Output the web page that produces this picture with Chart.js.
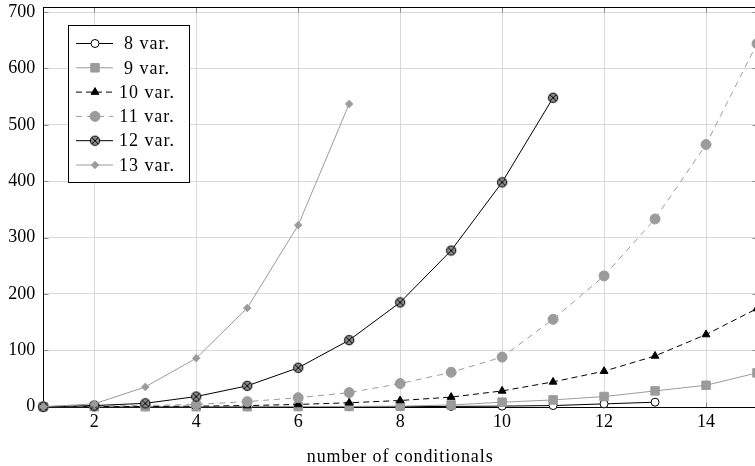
<!DOCTYPE html>
<html>
<head>
<meta charset="utf-8">
<script src="https://cdn.jsdelivr.net/npm/chart.js@4.4.1/dist/chart.umd.min.js"></script>
<style>
html,body{margin:0;padding:0;overflow:hidden;background:#fff;}
#wrap{width:764px;height:466px;}
</style>
</head>
<body>
<div id="wrap"><canvas id="chart" width="764" height="466"></canvas></div>
<script>
// number of conditionals on the x axis
const conditionals = [1,2,3,4,5,6,7,8,9,10,11,12,13,14,15];

const var8  = [0,0,0,0,0,0,0,0,0.5,1,2,5,8];
const var9  = [0,0,0,0,0,0.3,0.5,1,3,8,12,18,28,38,60];
const var10 = [0,0,0.5,1,2,4,7,11,17,28,44,63,90,128,174];
const var11 = [0,1,2,4,9,16,25,41,61,88,155,232,333,465,644];
const var12 = [0,2,6,18,37,69,118,185,277,398,548];
const var13 = [0,5,35,86,175,322,537];

const seriesNames = ['8 var.','9 var.','10 var.','11 var.','12 var.','13 var.'];
const xTicks = [2,4,6,8,10,12,14];
const yTicks = [0,100,200,300,400,500,600,700];
const xTitle = 'number of conditionals';

const gray = '#9b9b9b';
const font = "'Liberation Serif', 'DejaVu Serif', serif";

// circle with a cross for "12 var."
function crossedCircle() {
  const c = document.createElement('canvas');
  c.width = 12; c.height = 12;
  const g = c.getContext('2d');
  g.beginPath();
  g.arc(6, 6, 4.7, 0, Math.PI * 2);
  g.fillStyle = '#8a8a8a';
  g.fill();
  g.lineWidth = 1;
  g.strokeStyle = '#000';
  g.stroke();
  g.beginPath();
  g.moveTo(2.8, 2.8); g.lineTo(9.2, 9.2);
  g.moveTo(9.2, 2.8); g.lineTo(2.8, 9.2);
  g.stroke();
  return c;
}

function pts(values) {
  return values.map((v, i) => ({x: conditionals[i], y: v}));
}

const styles = [
  {line: '#000', dash: [], pStyle: 'circle', r: 4, fill: '#fff', stroke: '#000'},
  {line: gray, dash: [], pStyle: 'rect', r: 6, fill: gray, stroke: gray},
  {line: '#000', dash: [6, 4], pStyle: 'triangle', r: 4.5, fill: '#000', stroke: '#000'},
  {line: gray, dash: [6, 5], pStyle: 'circle', r: 5, fill: gray, stroke: gray},
  {line: '#000', dash: [], pStyle: crossedCircle(), r: 5, fill: '#8a8a8a', stroke: '#000'},
  {line: gray, dash: [], pStyle: 'rectRot', r: 3.7, fill: gray, stroke: gray}
];

const allValues = [var8, var9, var10, var11, var12, var13];

const datasets = allValues.map((vals, i) => ({
  label: seriesNames[i],
  data: pts(vals),
  borderColor: styles[i].line,
  borderWidth: 1,
  borderDash: styles[i].dash,
  pointStyle: styles[i].pStyle,
  pointRadius: styles[i].r,
  pointBackgroundColor: styles[i].fill,
  pointBorderColor: styles[i].stroke,
  pointBorderWidth: 1,
  tension: 0,
  clip: false,
  order: allValues.length - i
}));

const framePlugin = {
  id: 'frame',
  beforeDatasetsDraw(chart) {
    const {ctx, chartArea: a, scales} = chart;
    const l = Math.round(a.left) + 0.5, r = Math.round(a.right) + 0.5;
    const t = Math.round(a.top) + 0.5, b = Math.round(a.bottom) + 0.5;
    ctx.save();
    ctx.lineWidth = 1;
    ctx.strokeStyle = '#8c8c8c';
    ctx.beginPath();
    xTicks.forEach(v => {
      const px = Math.round(scales.x.getPixelForValue(v)) + 0.5;
      ctx.moveTo(px, b); ctx.lineTo(px, b - 5);
      ctx.moveTo(px, t); ctx.lineTo(px, t + 5);
    });
    yTicks.forEach(v => {
      const py = Math.round(scales.y.getPixelForValue(v)) + 0.5;
      ctx.moveTo(l, py); ctx.lineTo(l + 5, py);
      ctx.moveTo(r, py); ctx.lineTo(r - 5, py);
    });
    ctx.stroke();
    ctx.strokeStyle = '#000';
    ctx.strokeRect(l, t, r - l, b - t);
    ctx.restore();
  }
};

const legendPlugin = {
  id: 'insideLegend',
  afterDraw(chart) {
    const ctx = chart.ctx;
    ctx.save();
    // axis title, a bit wider spaced like the original; centred on the plot
    ctx.fillStyle = '#000';
    ctx.font = '18px ' + font;
    ctx.letterSpacing = '0.9px';
    ctx.textAlign = 'center';
    ctx.textBaseline = 'alphabetic';
    ctx.fillText(xTitle, (chart.chartArea.left + chart.chartArea.right) / 2, 462);

    ctx.fillStyle = '#fff';
    ctx.fillRect(68.5, 25.5, 121, 157);
    ctx.strokeStyle = '#000';
    ctx.lineWidth = 1;
    ctx.strokeRect(68.5, 25.5, 121, 157);
    chart.data.datasets.forEach((ds, i) => {
      const y = 43.5 + i * 24.3;
      ctx.strokeStyle = ds.borderColor;
      ctx.lineWidth = ds.borderWidth;
      ctx.setLineDash(ds.borderDash);
      ctx.beginPath();
      ctx.moveTo(76, y); ctx.lineTo(113, y);
      ctx.stroke();
      ctx.setLineDash([]);
      ctx.fillStyle = ds.pointBackgroundColor;
      ctx.strokeStyle = ds.pointBorderColor;
      ctx.lineWidth = ds.pointBorderWidth;
      Chart.helpers.drawPoint(ctx, {
        pointStyle: ds.pointStyle, radius: ds.pointRadius, rotation: 0, borderWidth: ds.pointBorderWidth
      }, 95, y);
      ctx.fillStyle = '#000';
      ctx.font = '18px ' + font;
      ctx.letterSpacing = '1px';
      ctx.textAlign = 'center';
      ctx.textBaseline = 'middle';
      ctx.fillText(ds.label, 147, y + 1);
    });
    ctx.restore();
  }
};

new Chart(document.getElementById('chart'), {
  type: 'line',
  data: {datasets: datasets},
  plugins: [framePlugin, legendPlugin],
  options: {
    responsive: false,
    animation: false,
    devicePixelRatio: 1,
    layout: {padding: {top: 4.7, right: 0, bottom: 0, left: 0}},
    plugins: {legend: {display: false}, tooltip: {enabled: false}},
    scales: {
      x: {
        type: 'linear',
        min: 1,
        max: 15,
        afterBuildTicks: s => { s.ticks = xTicks.map(v => ({value: v})); },
        afterFit: s => { s.height = 59.3; s.paddingLeft = 0; s.paddingRight = 0; },
        grid: {color: '#d9d9d9', drawTicks: false},
        border: {display: false},
        ticks: {color: '#000', padding: 5, font: {family: font, size: 18}, maxRotation: 0}
      },
      y: {
        min: 0,
        max: 709,
        afterBuildTicks: s => { s.ticks = yTicks.map(v => ({value: v})); },
        afterFit: s => { s.width = 43.3; s.paddingTop = 0; s.paddingBottom = 0; },
        grid: {color: ctx => ctx.tick && ctx.tick.value === 0 ? 'rgba(0,0,0,0)' : '#d9d9d9', drawTicks: false},
        border: {display: false},
        ticks: {color: '#000', padding: 8, font: {family: font, size: 18}}
      }
    }
  }
});
</script>
</body>
</html>
